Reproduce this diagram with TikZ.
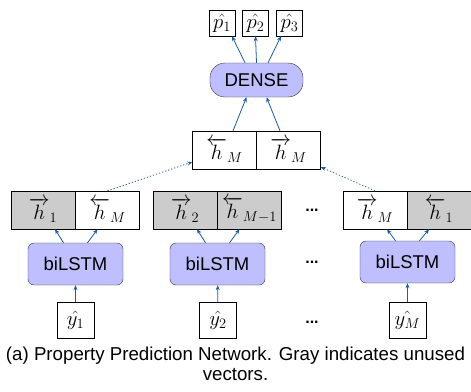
\documentclass[tikz,border=0pt]{standalone}
\usepackage{amsmath}
\usepackage[no-math]{fontspec}
\setmainfont{Liberation Sans}
\usepackage{tikz}
\usetikzlibrary{arrows.meta}

\definecolor{arrowblue}{RGB}{28,92,162}
\definecolor{lstmblue}{RGB}{191,191,255}
\definecolor{unusedgray}{RGB}{204,204,204}

\begin{document}
\begin{tikzpicture}[x=1pt,y=-1pt,
  vec/.style={draw,minimum width=64pt,minimum height=38pt,inner sep=0pt,
              font=\fontsize{21.5}{25}\selectfont},
  unused/.style={vec,fill=unusedgray},
  lstm/.style={draw=black!80,fill=lstmblue,rounded corners=6pt,
               minimum width=95pt,minimum height=42pt,
               font=\fontsize{18.5}{22}\selectfont},
  inbox/.style={draw,minimum width=37pt,minimum height=36pt,inner sep=0pt,
                font=\fontsize{21}{25}\selectfont},
  outbox/.style={draw,minimum width=26pt,minimum height=26pt,inner sep=0pt,
                 font=\fontsize{20.5}{24}\selectfont},
  gap/.style={font=\fontsize{16}{18}\selectfont\bfseries}]
\useasboundingbox (0,0) rectangle (471,391);

% inputs
\node[inbox] (y1) at (75.5,320) {$\hat{y_1}$};
\node[inbox] (y2) at (218,320) {$\hat{y_2}$};
\node[inbox] (y3) at (407.5,320) {$\hat{y_M}$};

% biLSTM cells
\node[lstm] (l1) at (75.5,264) {biLSTM};
\node[lstm] (l2) at (217.5,264) {biLSTM};
\node[lstm] (l3) at (407.5,262) {biLSTM};

% hidden vectors
\node[unused] (f1) at (43,210) {$\overrightarrow{h}_1$};
\node[vec]    (b1) at (107.5,210) {$\overleftarrow{h}_M$};
\node[unused] (f2) at (185,210) {$\overrightarrow{h}_2$};
\node[unused] (b2) at (249.5,210) {$\overleftarrow{h}_{M-1}$};
\node[vec]    (f3) at (375,210) {$\overrightarrow{h}_M$};
\node[unused] (b3) at (439,210) {$\overleftarrow{h}_1$};

\node[gap] (d1) at (312,210) {...};
\node[gap] (d2) at (312,262) {...};
\node[gap] (d3) at (312,322) {...};

% joined vector
\node[vec] (tl) at (224.5,150) {$\overleftarrow{h}_M$};
\node[vec] (tr) at (288.5,150) {$\overrightarrow{h}_M$};

\node[draw=black!80,fill=lstmblue,rounded corners=15pt,minimum width=93pt,
      minimum height=34pt,font=\fontsize{18.5}{22}\selectfont] (dense) at (256.5,80) {DENSE};

% outputs
\node[outbox] (p1) at (222,23) {$\hat{p_1}$};
\node[outbox] (p2) at (255.5,23) {$\hat{p_2}$};
\node[outbox] (p3) at (289.5,23) {$\hat{p_3}$};

\node[align=center,font=\fontsize{18.7}{20.5}\selectfont] (cap) at (235.5,364)
  {(a) Property Prediction Network. Gray indicates unused\\vectors.};

\begin{scope}[every edge/.style={draw=arrowblue,line width=0.8pt,
                                 -{Stealth[length=5pt,width=4pt]}}]
	\path (y1) edge (l1);
	\path (y2) edge (l2);
	\path (y3) edge (l3);

	\path ([xshift=-12pt]l1.north) edge ([xshift=12pt]f1.south);
	\path ([xshift=12pt]l1.north) edge ([xshift=-10pt]b1.south);
	\path ([xshift=-12pt]l2.north) edge ([xshift=12pt]f2.south);
	\path ([xshift=12pt]l2.north) edge ([xshift=-10pt]b2.south);
	\path ([xshift=-12pt]l3.north) edge ([xshift=12pt]f3.south);
	\path ([xshift=12pt]l3.north) edge ([xshift=-10pt]b3.south);

	\path (b1.north) edge[dash pattern=on 1.2pt off 2pt] ([yshift=-12pt]tl.west);
	\path (f3.north) edge[dash pattern=on 1.2pt off 2pt] ([yshift=-17pt]tr.east);

	\path ([xshift=8.5pt]tl.north) edge ([xshift=-10pt]dense.south);
	\path ([xshift=-8.5pt]tr.north) edge ([xshift=10pt]dense.south);

	\path ([xshift=-11.5pt]dense.north) edge ([xshift=10pt]p1.south);
	\path (dense.north) edge (p2.south);
	\path ([xshift=11.5pt]dense.north) edge ([xshift=-8.5pt]p3.south);
\end{scope}
\end{tikzpicture}
\end{document}
